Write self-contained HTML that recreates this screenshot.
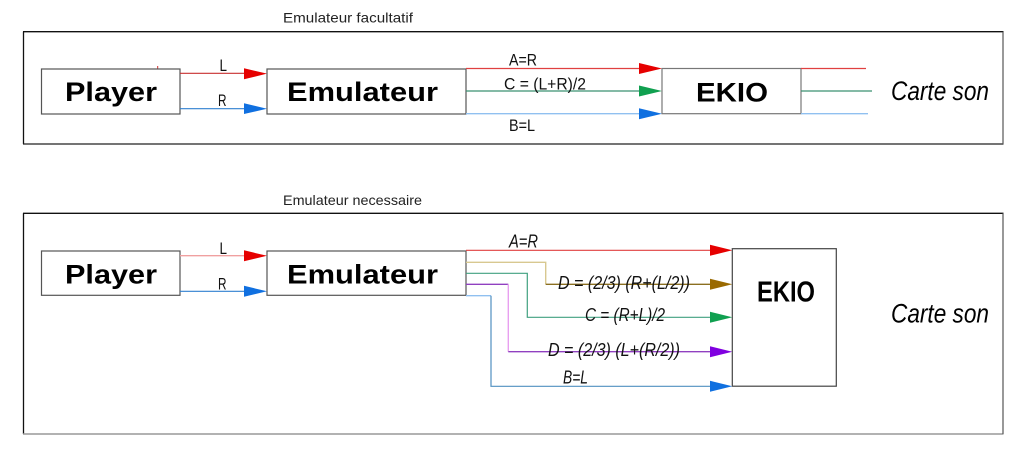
<!DOCTYPE html>
<html><head><meta charset="utf-8"><style>
html,body{margin:0;padding:0;background:#fff;}
svg{display:block;}
text{font-family:"Liberation Sans",sans-serif;}
</style></head><body>
<svg width="1024" height="451" viewBox="0 0 1024 451" xmlns="http://www.w3.org/2000/svg">
<rect x="0" y="0" width="1024" height="451" fill="#fff"/>

<!-- ===== TOP SECTION ===== -->
<text x="283" y="22.7" font-size="14" fill="#222" textLength="130" lengthAdjust="spacingAndGlyphs">Emulateur facultatif</text>
<line x1="23" y1="31.7" x2="1003.5" y2="31.7" stroke="#111" stroke-width="1.3"/>
<line x1="23.5" y1="31.7" x2="23.5" y2="144" stroke="#111" stroke-width="1.3"/>
<line x1="23" y1="144" x2="1003.5" y2="144" stroke="#222" stroke-width="1.3"/>
<line x1="1003" y1="31.7" x2="1003" y2="144" stroke="#555" stroke-width="1.2"/>

<line x1="157.7" y1="66" x2="157.7" y2="69" stroke="#d03030" stroke-width="1"/>

<rect x="41.5" y="69" width="138.5" height="45" fill="#fff" stroke="#555" stroke-width="1.2"/>
<text x="65" y="101" font-size="27" font-weight="bold" fill="#000" textLength="92" lengthAdjust="spacingAndGlyphs">Player</text>

<line x1="180" y1="73.3" x2="246" y2="73.3" stroke="#c83030" stroke-width="1.2"/>
<polygon points="244,68.3 267,73.6 244,79.3" fill="#e60000"/>
<text x="219.5" y="71" font-size="17" fill="#111" textLength="7.5" lengthAdjust="spacingAndGlyphs">L</text>
<line x1="180" y1="108.7" x2="246" y2="108.7" stroke="#3080d0" stroke-width="1.2"/>
<polygon points="244,103.3 267,108.7 244,114" fill="#1070e0"/>
<text x="218" y="106" font-size="17" fill="#111" textLength="8.5" lengthAdjust="spacingAndGlyphs">R</text>

<rect x="267" y="69" width="199" height="45" fill="#fff" stroke="#555" stroke-width="1.2"/>
<text x="287" y="101" font-size="27" font-weight="bold" fill="#000" textLength="151" lengthAdjust="spacingAndGlyphs">Emulateur</text>

<line x1="466" y1="68.5" x2="641" y2="68.5" stroke="#e04040" stroke-width="1.2"/>
<polygon points="639,63 662,68.5 639,74" fill="#e60000"/>
<line x1="466" y1="91" x2="641" y2="91" stroke="#3a9070" stroke-width="1.2"/>
<polygon points="639,85.5 662,91 639,96.5" fill="#10a050"/>
<line x1="466" y1="113.7" x2="641" y2="113.7" stroke="#90c0f0" stroke-width="1.4"/>
<polygon points="639,108.2 662,113.7 639,119.2" fill="#1070e0"/>
<text x="509" y="65.7" font-size="17" fill="#111" textLength="28" lengthAdjust="spacingAndGlyphs">A=R</text>
<text x="504" y="89.3" font-size="17" fill="#111" textLength="82" lengthAdjust="spacingAndGlyphs">C = (L+R)/2</text>
<text x="509" y="131" font-size="17" fill="#111" textLength="26" lengthAdjust="spacingAndGlyphs">B=L</text>

<rect x="662" y="68.5" width="139" height="45.2" fill="#fff" stroke="#777" stroke-width="1.2"/>
<text x="696" y="101.5" font-size="27" font-weight="bold" fill="#000" textLength="72" lengthAdjust="spacingAndGlyphs">EKIO</text>

<line x1="801" y1="68.5" x2="866" y2="68.5" stroke="#e04040" stroke-width="1.2"/>
<line x1="801" y1="91" x2="872" y2="91" stroke="#3a9070" stroke-width="1.2"/>
<line x1="801" y1="113.7" x2="868" y2="113.7" stroke="#90c0f0" stroke-width="1.4"/>

<text x="891" y="100" font-size="27" font-style="italic" fill="#000" textLength="98" lengthAdjust="spacingAndGlyphs">Carte son</text>

<!-- ===== BOTTOM SECTION ===== -->
<text x="283" y="205" font-size="14" fill="#222" textLength="139" lengthAdjust="spacingAndGlyphs">Emulateur necessaire</text>
<line x1="23" y1="213.3" x2="1003.5" y2="213.3" stroke="#111" stroke-width="1.3"/>
<line x1="23.5" y1="213.3" x2="23.5" y2="434" stroke="#111" stroke-width="1.3"/>
<line x1="23" y1="434" x2="1003.5" y2="434" stroke="#999" stroke-width="1.4"/>
<line x1="1003" y1="213.3" x2="1003" y2="434" stroke="#555" stroke-width="1.2"/>

<rect x="41.5" y="251" width="138.5" height="44.3" fill="#fff" stroke="#555" stroke-width="1.2"/>
<text x="65" y="283.3" font-size="27" font-weight="bold" fill="#000" textLength="92" lengthAdjust="spacingAndGlyphs">Player</text>

<line x1="180" y1="255.7" x2="246" y2="255.7" stroke="#f0a0a0" stroke-width="1.4"/>
<polygon points="244,250.3 267,255.8 244,261.3" fill="#e60000"/>
<text x="219.5" y="254" font-size="17" fill="#111" textLength="7.5" lengthAdjust="spacingAndGlyphs">L</text>
<line x1="180" y1="291.3" x2="246" y2="291.3" stroke="#3080d0" stroke-width="1.2"/>
<polygon points="244,285.8 267,291.3 244,296.8" fill="#1070e0"/>
<text x="218" y="289.3" font-size="17" fill="#111" textLength="8.5" lengthAdjust="spacingAndGlyphs">R</text>

<rect x="267" y="251" width="199" height="44.3" fill="#fff" stroke="#555" stroke-width="1.2"/>
<text x="287" y="283.3" font-size="27" font-weight="bold" fill="#000" textLength="151" lengthAdjust="spacingAndGlyphs">Emulateur</text>

<line x1="466" y1="250.3" x2="712" y2="250.3" stroke="#e04040" stroke-width="1.2"/>
<polygon points="710,244.8 732.3,250.3 710,255.8" fill="#e60000"/>
<polyline points="466,262.3 545.7,262.3 545.7,284.3" fill="none" stroke="#d8c890" stroke-width="1.4"/>
<line x1="545.7" y1="284.3" x2="712" y2="284.3" stroke="#8b6f20" stroke-width="1.3"/>
<polygon points="710,278.8 732.3,284.3 710,289.8" fill="#9a6a00"/>
<polyline points="466,273.3 527.3,273.3 527.3,317.3 712,317.3" fill="none" stroke="#40a080" stroke-width="1.2"/>
<polygon points="710,311.8 732.3,317.3 710,322.8" fill="#10a050"/>
<line x1="466" y1="284.3" x2="508.3" y2="284.3" stroke="#9040c0" stroke-width="1.3"/>
<line x1="508.3" y1="284.3" x2="508.3" y2="351.7" stroke="#e8a0f0" stroke-width="1.4"/>
<line x1="508.3" y1="351.7" x2="712" y2="351.7" stroke="#9040c0" stroke-width="1.3"/>
<polygon points="710,346.2 732.3,351.7 710,357.2" fill="#8000e0"/>
<line x1="466" y1="295.7" x2="491" y2="295.7" stroke="#90c0f0" stroke-width="1.4"/>
<polyline points="491,295.7 491,386.3 712,386.3" fill="none" stroke="#5090c0" stroke-width="1.2"/>
<polygon points="710,380.8 732.3,386.3 710,391.8" fill="#1070e0"/>

<text x="509" y="247.5" font-size="18" font-style="italic" fill="#111" textLength="29" lengthAdjust="spacingAndGlyphs">A=R</text>
<text x="558" y="289" font-size="18" font-style="italic" fill="#111" textLength="132" lengthAdjust="spacingAndGlyphs">D = (2/3) (R+(L/2))</text>
<text x="585" y="321" font-size="18" font-style="italic" fill="#111" textLength="80" lengthAdjust="spacingAndGlyphs">C = (R+L)/2</text>
<text x="548" y="356" font-size="18" font-style="italic" fill="#111" textLength="132" lengthAdjust="spacingAndGlyphs">D = (2/3) (L+(R/2))</text>
<text x="563" y="383.3" font-size="18" font-style="italic" fill="#111" textLength="25" lengthAdjust="spacingAndGlyphs">B=L</text>

<rect x="732.3" y="248.7" width="104" height="137.5" fill="#fff" stroke="#444" stroke-width="1.2"/>
<text x="757" y="301.7" font-size="29" font-weight="bold" fill="#000" textLength="58" lengthAdjust="spacingAndGlyphs">EKIO</text>

<text x="891" y="322.7" font-size="27" font-style="italic" fill="#000" textLength="98" lengthAdjust="spacingAndGlyphs">Carte son</text>
</svg>
</body></html>
